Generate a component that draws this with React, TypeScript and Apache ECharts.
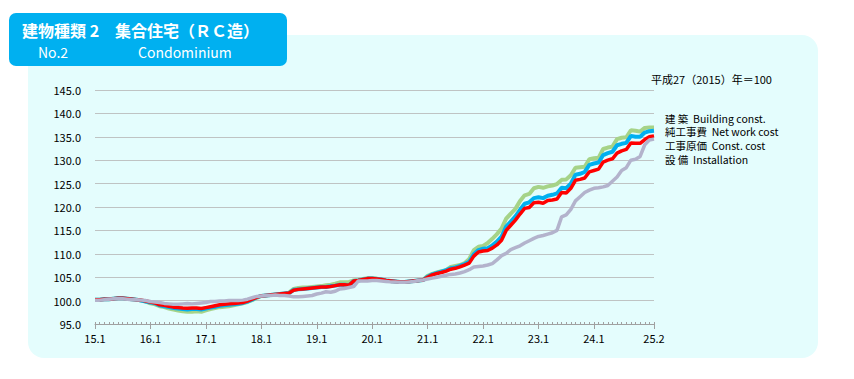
import React, { useEffect, useRef } from "react";
import * as echarts from "echarts";

// Categories: 2015.1 (H27) … 2025.2, monthly
const years: number[] = [15, 16, 17, 18, 19, 20, 21, 22, 23, 24, 25];
const lastMonth = 2;
const categories: string[] = [];
years.forEach((y) => {
  const end = y === 25 ? lastMonth : 12;
  for (let m = 1; m <= end; m++) categories.push(`${y}.${m}`);
});

const yTicks = { min: 95, max: 145, interval: 5 };

const seriesNames = [
  "建 築  Building const.",
  "純工事費  Net work cost",
  "工事原価  Const. cost",
  "設 備  Installation",
];

const building: number[] = [
  100.2, 100.2, 100.3, 100.3, 100.4, 100.5, 100.5, 100.4, 100.3, 100.2, 100.0, 99.8,
  99.4, 99.2, 98.8, 98.6, 98.3, 98.1, 97.9, 97.7, 97.6, 97.6, 97.7, 97.6,
  97.9, 98.2, 98.4, 98.6, 98.7, 98.8, 99.0, 99.2, 99.4, 99.7, 100.1, 100.6,
  101.0, 101.1, 101.2, 101.3, 101.4, 101.5, 101.7, 102.5, 102.7, 102.8, 102.8, 102.9,
  103.0, 103.1, 103.3, 103.4, 103.6, 103.9, 103.9, 104.0, 104.3, 104.4, 104.6, 104.8,
  104.8, 104.7, 104.5, 104.3, 104.2, 104.1, 104.0, 104.0, 104.1, 104.2, 104.3, 104.4,
  105.3, 105.7, 106.0, 106.3, 106.5, 107.2, 107.4, 107.6, 108.0, 108.9, 110.8, 111.5,
  111.7, 112.3, 113.2, 114.2, 115.4, 117.5, 118.6, 119.6, 121.3, 122.5, 122.8, 124.0,
  124.3, 124.1, 124.4, 124.6, 124.9, 125.8, 125.9, 126.8, 128.4, 128.5, 128.6, 130.2,
  130.4, 130.5, 132.4, 132.7, 132.9, 134.5, 134.8, 134.9, 136.4, 136.3, 136.1, 136.9,
  137.0, 137.0,
];

const netWork: number[] = [
  100.2, 100.2, 100.3, 100.3, 100.4, 100.5, 100.5, 100.4, 100.3, 100.2, 100.0, 99.8,
  99.6, 99.4, 99.0, 98.8, 98.6, 98.4, 98.3, 98.2, 98.1, 98.2, 98.2, 98.1,
  98.3, 98.5, 98.7, 98.9, 99.0, 99.1, 99.2, 99.3, 99.5, 99.8, 100.2, 100.7,
  101.0, 101.1, 101.2, 101.3, 101.4, 101.5, 101.6, 102.3, 102.4, 102.5, 102.6, 102.7,
  102.8, 102.9, 102.9, 103.1, 103.2, 103.4, 103.4, 103.3, 104.2, 104.3, 104.5, 104.7,
  104.7, 104.6, 104.5, 104.3, 104.2, 104.1, 104.0, 104.0, 104.1, 104.2, 104.3, 104.4,
  105.1, 105.6, 105.9, 106.2, 106.5, 106.9, 107.1, 107.4, 107.8, 108.3, 109.9, 110.8,
  111.1, 111.2, 111.8, 112.6, 113.7, 115.8, 116.9, 118.0, 119.4, 120.7, 121.0, 121.9,
  122.1, 121.9, 122.4, 122.6, 122.9, 124.1, 124.0, 125.0, 126.9, 127.1, 127.5, 129.0,
  129.3, 129.5, 131.1, 131.5, 131.8, 133.2, 133.5, 133.7, 135.2, 135.0, 135.0, 135.9,
  136.2, 136.3,
];

const constCost: number[] = [
  100.2, 100.2, 100.3, 100.3, 100.4, 100.5, 100.5, 100.4, 100.3, 100.2, 100.1, 99.9,
  99.7, 99.5, 99.1, 99.0, 98.8, 98.6, 98.5, 98.4, 98.35, 98.4, 98.4, 98.3,
  98.5, 98.7, 98.9, 99.1, 99.2, 99.3, 99.4, 99.5, 99.6, 99.9, 100.3, 100.7,
  101.0, 101.1, 101.2, 101.3, 101.4, 101.5, 101.6, 102.2, 102.4, 102.5, 102.6, 102.7,
  102.8, 102.9, 102.9, 103.0, 103.2, 103.4, 103.4, 103.3, 104.2, 104.3, 104.5, 104.7,
  104.7, 104.6, 104.5, 104.3, 104.2, 104.1, 104.0, 104.0, 104.1, 104.2, 104.3, 104.4,
  105.0, 105.5, 105.8, 106.0, 106.3, 106.7, 106.9, 107.2, 107.6, 108.0, 109.5, 110.4,
  110.6, 110.7, 111.2, 111.9, 112.9, 115.0, 116.1, 117.2, 118.5, 119.7, 119.9, 120.9,
  121.0, 120.8, 121.4, 121.5, 121.7, 123.1, 123.0, 124.0, 125.7, 125.9, 126.2, 127.5,
  127.8, 128.1, 129.6, 130.0, 130.3, 131.5, 132.0, 132.3, 133.7, 133.6, 133.6, 134.4,
  135.0, 135.2,
];

const installation: number[] = [
  100.1, 100.1, 100.2, 100.3, 100.4, 100.4, 100.4, 100.3, 100.2, 100.2, 100.1, 100.0,
  99.8, 99.7, 99.6, 99.4, 99.3, 99.2, 99.2, 99.3, 99.4, 99.3, 99.4, 99.5,
  99.6, 99.8, 99.8, 99.9, 99.9, 100.0, 100.0, 100.0, 100.1, 100.3, 100.6, 100.9,
  101.0, 101.1, 101.1, 101.2, 101.1, 101.1, 101.0, 100.8, 100.8, 100.9, 101.0, 101.1,
  101.4, 101.6, 101.9, 101.8, 102.0, 102.5, 102.6, 102.8, 103.0, 104.2, 104.2, 104.2,
  104.3, 104.3, 104.2, 104.1, 104.0, 104.0, 103.9, 103.9, 104.0, 104.1, 104.3, 104.4,
  104.6, 104.8, 105.0, 105.2, 105.4, 105.6, 105.7, 105.9, 106.2, 106.6, 107.2, 107.3,
  107.4, 107.6, 107.9, 108.7, 109.6, 110.1, 110.9, 111.3, 111.7, 112.3, 112.8, 113.3,
  113.7, 113.9, 114.2, 114.5, 115.0, 117.9, 118.3, 119.5, 121.3, 122.2, 123.1, 123.6,
  124.0, 124.1, 124.3, 124.6, 125.5, 126.4, 127.8, 128.4, 130.0, 130.2, 130.8, 133.3,
  134.3, 134.5,
];

const seriesData = [building, netWork, constCost, installation];
const colors = ["#a6d388", "#00b0f0", "#ff0000", "#b3b3cc"];
const widths = [4, 4, 3.5, 3.5];

const FONT = "'Noto Sans CJK JP', 'Noto Sans', sans-serif";

export default function App() {
  const ref = useRef<HTMLDivElement>(null);
  useEffect(() => {
    if (!ref.current) return;
    const chart = echarts.init(ref.current, undefined, { renderer: "svg" });
    const n = categories.length;
    const showMajor = (i: number) => (i % 12 === 0 && i !== n - 2) || i === n - 1;
    chart.setOption({
      animation: false,
      textStyle: { fontFamily: FONT },
      grid: { left: 95, right: 200, top: 90, bottom: 55 },
      xAxis: [
        {
          type: "category",
          data: categories,
          boundaryGap: false,
          axisLine: { lineStyle: { color: "#a0a0a0", width: 1 } },
          axisTick: { show: true, interval: (i: number) => showMajor(i), length: 5, lineStyle: { color: "#a0a0a0" } },
          axisLabel: {
            interval: (i: number) => showMajor(i),
            color: "#000",
            fontSize: 11,
            fontFamily: FONT,
            margin: 8,
          },
          splitLine: { show: false },
        },
        {
          type: "category",
          data: categories,
          boundaryGap: false,
          position: "bottom",
          axisLine: { show: false },
          axisTick: { show: true, interval: 0, inside: true, length: 2, lineStyle: { color: "#a0a0a0" } },
          axisLabel: { show: false },
          splitLine: { show: false },
        },
      ],
      yAxis: {
        type: "value",
        min: yTicks.min,
        max: yTicks.max,
        interval: yTicks.interval,
        axisLine: { show: false },
        axisTick: { show: false },
        axisLabel: {
          formatter: (v: number) => v.toFixed(1),
          color: "#000",
          fontSize: 11,
          fontFamily: FONT,
          margin: 14,
        },
        splitLine: {
          show: true,
          lineStyle: { color: "#bfc3c3", width: 1 },
        },
      },
      series: seriesData.map((d, k) => ({
        name: seriesNames[k],
        type: "line",
        data: d,
        symbol: "none",
        xAxisIndex: 0,
        lineStyle: { color: colors[k], width: widths[k] },
        itemStyle: { color: colors[k] },
      })),
      graphic: [
        {
          type: "rect",
          z: -20,
          shape: { x: 28, y: 35, width: 790, height: 323, r: 16 },
          style: { fill: "#e4fdfd" },
        },
        {
          type: "rect",
          z: 10,
          shape: { x: 9, y: 13, width: 278, height: 53, r: 7 },
          style: { fill: "#00b0f0" },
        },
        {
          type: "text",
          z: 11,
          x: 22,
          y: 30,
          style: {
            text: "建物種類 2　集合住宅（ＲＣ造）",
            fill: "#ffffff",
            font: `bold 16px ${FONT}`,
            verticalAlign: "middle",
          },
        },
        {
          type: "text",
          z: 11,
          x: 38,
          y: 52,
          style: { text: "No.2", fill: "#ffffff", font: `14px ${FONT}`, verticalAlign: "middle" },
        },
        {
          type: "text",
          z: 11,
          x: 138,
          y: 52,
          style: { text: "Condominium", fill: "#ffffff", font: `14px ${FONT}`, verticalAlign: "middle" },
        },
        {
          type: "text",
          z: 11,
          x: 651,
          y: 79,
          style: { text: "平成27（2015）年＝100", fill: "#000", font: `11px ${FONT}`, verticalAlign: "middle" },
        },
        ...seriesNames.map((name, k) => ({
          type: "text",
          z: 11,
          x: 665,
          y: [118, 131.8, 145.6, 159.4][k],
          style: {
            text: name,
            fill: "#000",
            font: `10.5px ${FONT}`,
            lineHeight: 12,
            verticalAlign: "middle",
          },
        })),
      ],
    });
    return () => chart.dispose();
  }, []);
  return (
    <div
      ref={ref}
      style={{ position: "fixed", left: 0, top: 0, width: 854, height: 379, background: "#ffffff" }}
    />
  );
}
